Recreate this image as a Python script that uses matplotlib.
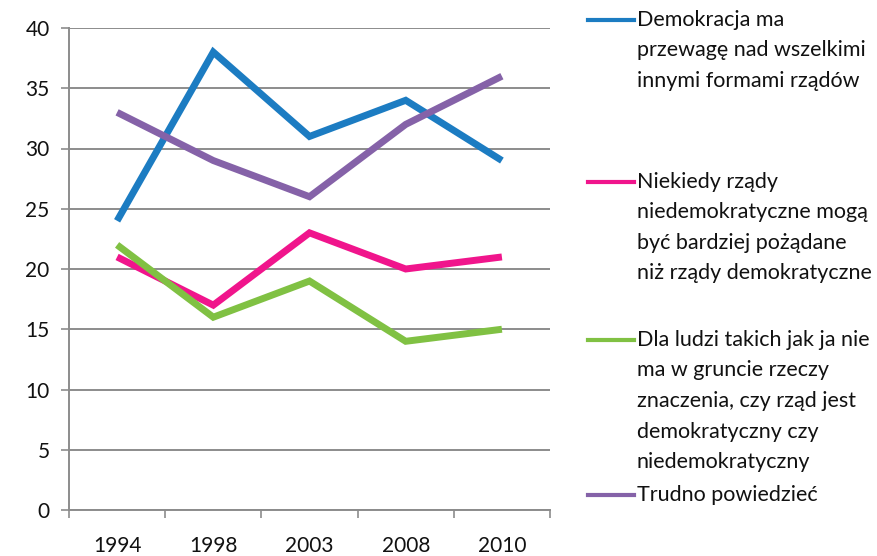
import matplotlib
matplotlib.use("Agg")
import matplotlib.pyplot as plt
from matplotlib.lines import Line2D

years = ["1994", "1998", "2003", "2008", "2010"]
labels = [
    "Demokracja ma\nprzewagę nad wszelkimi\ninnymi formami rządów",
    "Niekiedy rządy\nniedemokratyczne mogą\nbyć bardziej pożądane\nniż rządy demokratyczne",
    "Dla ludzi takich jak ja nie\nma w gruncie rzeczy\nznaczenia, czy rząd jest\ndemokratyczny czy\nniedemokratyczny",
    "Trudno powiedzieć",
]
demokracja = [24, 38, 31, 34, 29]
niekiedy = [21, 17, 23, 20, 21]
dla_ludzi = [22, 16, 19, 14, 15]
trudno = [33, 29, 26, 32, 36]
series = [demokracja, niekiedy, dla_ludzi, trudno]
colors = ["#1c7cc2", "#f0158c", "#80c143", "#8562a8"]
yticks = [0, 5, 10, 15, 20, 25, 30, 35, 40]

plt.rcParams['font.family'] = ['Lato', 'DejaVu Sans']

W, H = 878, 556
fig = plt.figure(figsize=(W / 100, H / 100), dpi=100)
ax = fig.add_axes([69 / W, 1 - 510 / H, (550 - 69) / W, (510 - 28) / H])

x = list(range(len(years)))
for vals, c in zip(series, colors):
    ax.plot(x, vals, color=c, lw=5, solid_capstyle='butt', solid_joinstyle='miter', zorder=3)

ax.set_xlim(-0.5, len(years) - 0.5)
ax.set_ylim(0, 40)
ax.set_yticks(yticks)
ax.set_yticklabels([str(v) for v in yticks], fontsize=15, color="#111111")
ax.set_xticks([i - 0.5 for i in range(len(years) + 1)], minor=False)
ax.set_xticklabels([])
ax.set_xticks(x, minor=True)
ax.set_xticklabels(years, minor=True, fontsize=15, color="#111111")
ax.tick_params(axis='x', which='minor', length=0, pad=19)
ax.tick_params(axis='x', which='major', length=6, width=1.2, color="#8c8c8c", direction='out')
ax.tick_params(axis='y', length=6, width=1.2, color="#8c8c8c", direction='out', pad=8)
ax.grid(axis='y', color="#8c8c8c", lw=1.4, zorder=0)
for s in ['top', 'right']:
    ax.spines[s].set_visible(False)
for s in ['left', 'bottom']:
    ax.spines[s].set_color("#8c8c8c")
    ax.spines[s].set_linewidth(1.4)

# legend, Excel style
entry_tops = [20, 182, 340, 495]
line_sp = 30.5
for lab, c, yt in zip(labels, colors, entry_tops):
    fy = 1 - yt / H
    fig.add_artist(Line2D([588 / W, 634 / W], [fy, fy], color=c, lw=3, transform=fig.transFigure))
    lines = lab.split("\n")
    for j, ln in enumerate(lines):
        fig.text(637 / W, 1 - (yt + j * line_sp) / H, ln, fontsize=15.5, color="#111111",
                 va='center', ha='left')

fig.savefig("out.png", dpi=100)
